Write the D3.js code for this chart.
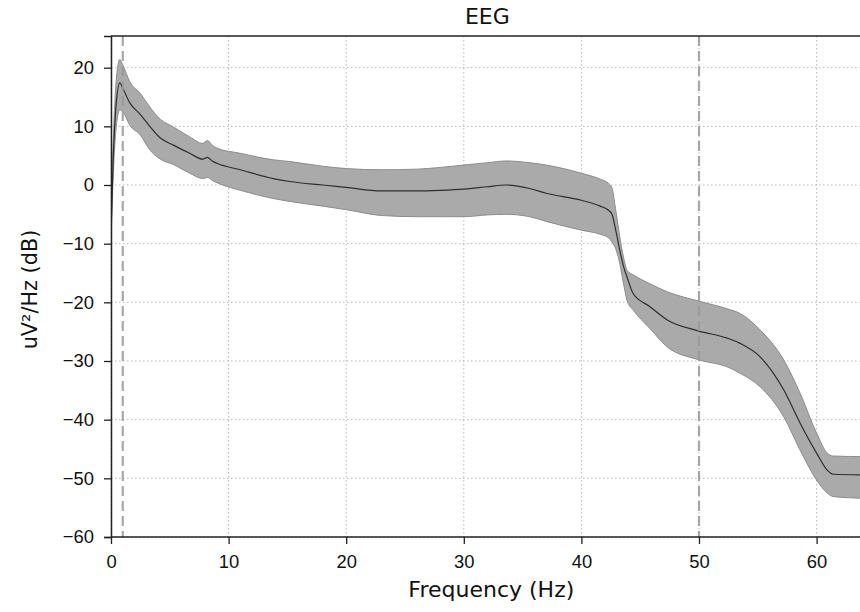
<!DOCTYPE html>
<html>
<head>
<meta charset="utf-8">
<script src="https://cdn.jsdelivr.net/npm/d3@7"></script>
<style>
  body { margin: 0; background: #fff; }
  svg { display: block; font-family: "DejaVu Sans", sans-serif; }
</style>
</head>
<body>
<div id="chart"></div>
<script>
// PSD values
let freqs = [0, 0.2, 0.45, 0.75, 1.0, 1.6, 2.5, 3.3, 4.2, 5.3, 6.7, 7.8, 8.2, 8.6, 9.0, 11.0, 13.8, 15.2,
             18, 20, 23, 26, 28, 30, 32, 33.6, 35.6, 37, 40, 41.6, 42.3, 42.6, 42.9, 43.2, 43.6, 43.9,
             44.4, 45.8, 47.3, 50, 52.4, 53.5, 55.2, 57.2, 58.6, 60.0, 60.9, 61.4, 64];
let meanDb = [-8, 5, 14, 17.4, 16.5, 14, 12, 10, 8, 6.8, 5.4, 4.4, 4.7, 4.1, 3.7, 2.6, 1.1, 0.6,
              0.0, -0.4, -1.0, -1.0, -0.9, -0.7, -0.3, 0.0, -0.6, -1.4, -2.6, -3.6, -4.3, -5.0, -7.5, -10.5, -14.0, -15.8,
              -18.5, -20.7, -23.0, -24.9, -26.1, -27.0, -29.3, -34.9, -40.6, -45.7, -48.6, -49.3, -49.4];
let upperDb = [-6, 8, 18, 21.4, 20.5, 17.6, 15.6, 13.3, 11.2, 9.9, 8.2, 7.1, 7.6, 6.8, 6.3, 5.4, 4.3, 4.0,
               3.2, 2.8, 2.6, 2.7, 3.0, 3.4, 3.8, 4.1, 3.8, 3.4, 2.0, 1.0, 0.3, -0.5, -4.0, -8.0, -12.5, -14.6,
               -15.3, -16.8, -18.2, -19.8, -21.1, -21.9, -24.7, -29.8, -35.5, -42.3, -45.7, -46.2, -46.3];
let lowerDb = [-10, 2, 10, 12.8, 12.5, 10.2, 8.5, 6.0, 4.4, 3.5, 2.0, 1.1, 1.3, 0.8, 0.4, -0.9, -2.3, -2.8,
               -3.6, -4.2, -5.2, -5.4, -5.4, -5.4, -5.1, -5.0, -5.4, -6.2, -7.7, -8.4, -9.0, -9.7, -10.8, -12.8, -17.0, -19.8,
               -21.3, -24.4, -27.6, -29.8, -31.0, -32.1, -34.4, -39.5, -45.2, -50.3, -52.5, -53.1, -53.4];
let xTicks = [0, 10, 20, 30, 40, 50, 60];
let yTicks = [-60, -50, -40, -30, -20, -10, 0, 10, 20];
let markerFreqs = [1, 50];

let width = 860, height = 612;
let margin = {left: 111, top: 36, bottom: 75};

let svg = d3.select("#chart").append("svg")
    .attr("width", width)
    .attr("height", height);

let x = d3.scaleLinear().domain([0, 64]).range([margin.left, margin.left + 64 * 11.76]);
let y = d3.scaleLinear().domain([-60, 25.4]).range([height - margin.bottom, margin.top]);

let plotRight = x.range()[1];

svg.append("clipPath").attr("id", "clip")
    .append("rect")
    .attr("x", margin.left).attr("y", margin.top)
    .attr("width", plotRight - margin.left)
    .attr("height", y(-60) - margin.top);

// grid
let grid = svg.append("g").attr("stroke", "#b8b8b8").attr("stroke-width", 1).attr("stroke-dasharray", "1.5,2.5");
grid.selectAll(".gx").data(xTicks).join("line")
    .attr("x1", d => x(d)).attr("x2", d => x(d))
    .attr("y1", y.range()[1]).attr("y2", y.range()[0]);
grid.selectAll(".gy").data(yTicks).join("line")
    .attr("x1", margin.left).attr("x2", plotRight)
    .attr("y1", d => y(d)).attr("y2", d => y(d));

let pts = freqs.map((f, i) => ({f: f, m: meanDb[i], hi: upperDb[i], lo: lowerDb[i]}));

let plot = svg.append("g").attr("clip-path", "url(#clip)");

// std band
let area = d3.area()
    .x(d => x(d.f))
    .y0(d => y(d.lo))
    .y1(d => y(d.hi))
    .curve(d3.curveMonotoneX);
plot.append("path")
    .datum(pts)
    .attr("d", area)
    .attr("fill", "#aaaaaa")
    .attr("stroke", "#8c8c8c")
    .attr("stroke-width", 1);

// mean line
let line = d3.line()
    .x(d => x(d.f))
    .y(d => y(d.m))
    .curve(d3.curveMonotoneX);
plot.append("path")
    .datum(pts)
    .attr("d", line)
    .attr("fill", "none")
    .attr("stroke", "#2e2e2e")
    .attr("stroke-width", 1.2);

// dashed marker lines
plot.selectAll(".marker").data(markerFreqs).join("line")
    .attr("x1", d => x(d)).attr("x2", d => x(d))
    .attr("y1", y.range()[1]).attr("y2", y.range()[0])
    .attr("stroke", "#999")
    .attr("stroke-opacity", 0.85)
    .attr("stroke-width", 2.2)
    .attr("stroke-dasharray", "10,5");

// axes
let xAxis = svg.append("g")
    .attr("transform", "translate(0," + y(-60) + ")")
    .call(d3.axisBottom(x).tickValues(xTicks).tickSize(7).tickPadding(11).tickFormat(d3.format("d")));
let yAxis = svg.append("g")
    .attr("transform", "translate(" + margin.left + ",0)")
    .call(d3.axisLeft(y).tickValues(yTicks).tickSize(7).tickPadding(10).tickFormat(d => d < 0 ? "\u2212" + Math.abs(d) : d));
[xAxis, yAxis].forEach(a => {
    a.selectAll("text").style("font-size", "18.4px").attr("fill", "#111");
    a.selectAll("line").attr("stroke", "#222").attr("stroke-width", 1.3);
    a.select(".domain").attr("stroke", "#222").attr("stroke-width", 1.5);
});
xAxis.select(".domain").attr("d", "M" + margin.left + ",0H" + plotRight);

// top spine
svg.append("line")
    .attr("x1", margin.left).attr("x2", plotRight)
    .attr("y1", margin.top).attr("y2", margin.top)
    .attr("stroke", "#222").attr("stroke-width", 1.5);

// title and labels
svg.append("text")
    .attr("x", (margin.left + plotRight) / 2)
    .attr("y", 24)
    .attr("text-anchor", "middle")
    .style("font-size", "22px")
    .attr("fill", "#111")
    .text("EEG");
svg.append("text")
    .attr("x", (margin.left + plotRight) / 2 + 4)
    .attr("y", 597)
    .attr("text-anchor", "middle")
    .style("font-size", "22px")
    .attr("fill", "#111")
    .text("Frequency (Hz)");
svg.append("text")
    .attr("transform", "translate(37," + ((margin.top + y(-60)) / 2 + 3) + ") rotate(-90)")
    .attr("text-anchor", "middle")
    .style("font-size", "20.8px")
    .attr("fill", "#111")
    .text("uV\u00b2/Hz (dB)");
</script>
</body>
</html>
